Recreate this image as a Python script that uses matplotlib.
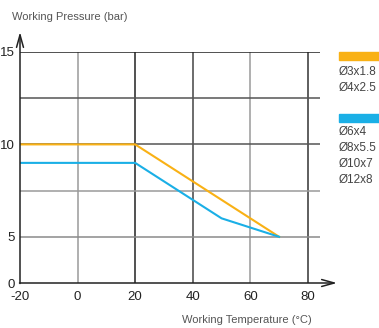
import numpy as np
import matplotlib
matplotlib.use("Agg")
import matplotlib.pyplot as plt
from matplotlib.patches import Rectangle

plt.rcParams['font.family'] = ['Liberation Sans', 'DejaVu Sans']

# Data
temp_a = [-20, 20, 70]
press_a = [10, 10, 5]
temp_b = [-20, 20, 50, 70]
press_b = [9, 9, 6, 5]
legend_a = ["Ø3x1.8", "Ø4x2.5"]
legend_b = ["Ø6x4", "Ø8x5.5", "Ø10x7", "Ø12x8"]
xticks = [-20, 0, 20, 40, 60, 80]
yticks = [0, 5, 10, 15]
ygrid = [0, 5, 7.5, 10, 12.5, 15]

orange = "#F9B115"
blue = "#1AAFE6"

W, H = 379, 328
fig = plt.figure(figsize=(W / 100, H / 100), dpi=100)

def px(x0, y0, x1, y1):
    return [x0 / W, 1 - y1 / H, (x1 - x0) / W, (y1 - y0) / H]

ax = fig.add_axes(px(20, 52, 320, 283))

def fwd(y):
    y = np.asarray(y, dtype=float)
    return np.where(y <= 5, y / 5.0, 1 + (y - 5) / 2.5)

def inv(v):
    v = np.asarray(v, dtype=float)
    return np.where(v <= 1, v * 5.0, 5 + (v - 1) * 2.5)

ax.set_yscale('function', functions=(fwd, inv))
ax.set_xlim(-20, 84.2)
ax.set_ylim(0, 15)

vcol = {-20: "#111111", 0: "#9a9a9a", 20: "#222222", 40: "#444444", 60: "#9a9a9a", 80: "#333333"}
hcol = {0: "#111111", 5: "#8a8a8a", 7.5: "#9a9a9a", 10: "#555555", 12.5: "#555555", 15: "#222222"}
for x in xticks[1:]:
    ax.axvline(x, color=vcol[x], lw=1.1, zorder=1)
for y in ygrid[1:]:
    ax.axhline(y, color=hcol[y], lw=1.1, zorder=1)

ax.plot(temp_a, press_a, color=orange, lw=1.5, zorder=3, solid_joinstyle='miter')
ax.plot(temp_b, press_b, color=blue, lw=1.5, zorder=3, solid_joinstyle='miter')

for s in ax.spines.values():
    s.set_visible(False)
ax.set_xticks(xticks)
ax.set_yticks(yticks)
ax.set_xticklabels([str(v) for v in xticks])
ax.set_yticklabels([str(v) for v in yticks])
ax.yaxis.set_minor_locator(matplotlib.ticker.NullLocator())
ax.tick_params(length=0, labelsize=9.5, colors="#222222")
ax.tick_params(axis='y', pad=4)
ax.tick_params(axis='x', pad=5.5)

# Axis lines with arrows
ax.annotate('', xy=(20, H - 32), xytext=(20, H - 283.5), xycoords='figure pixels',
            textcoords='figure pixels',
            arrowprops=dict(arrowstyle='->,head_length=0.9,head_width=0.25', color='#222222', lw=1.1,
                            shrinkA=0, shrinkB=0))
ax.annotate('', xy=(337, H - 283), xytext=(19.5, H - 283), xycoords='figure pixels',
            textcoords='figure pixels',
            arrowprops=dict(arrowstyle='->,head_length=0.9,head_width=0.25', color='#222222', lw=1.1,
                            shrinkA=0, shrinkB=0))

fig.text(12 / W, 1 - 17 / H, "Working Pressure (bar)", ha='left', va='center', fontsize=8, color="#555555")
fig.text(182 / W, 1 - 320 / H, "Working Temperature (°C)", ha='left', va='center', fontsize=8, color="#555555")

# Legend
fig.patches.append(Rectangle((339 / W, 1 - 60 / H), 40 / W, 8 / H, transform=fig.transFigure,
                             color=orange, figure=fig))
fig.patches.append(Rectangle((339 / W, 1 - 122 / H), 40 / W, 8 / H, transform=fig.transFigure,
                             color=blue, figure=fig))
for i, t in enumerate(legend_a):
    fig.text(339 / W, 1 - (72 + 15.5 * i) / H, t, ha='left', va='center', fontsize=8.5, color="#444444")
for i, t in enumerate(legend_b):
    fig.text(339 / W, 1 - (132 + 16 * i) / H, t, ha='left', va='center', fontsize=8.5, color="#444444")

fig.savefig("out.png", dpi=100)
